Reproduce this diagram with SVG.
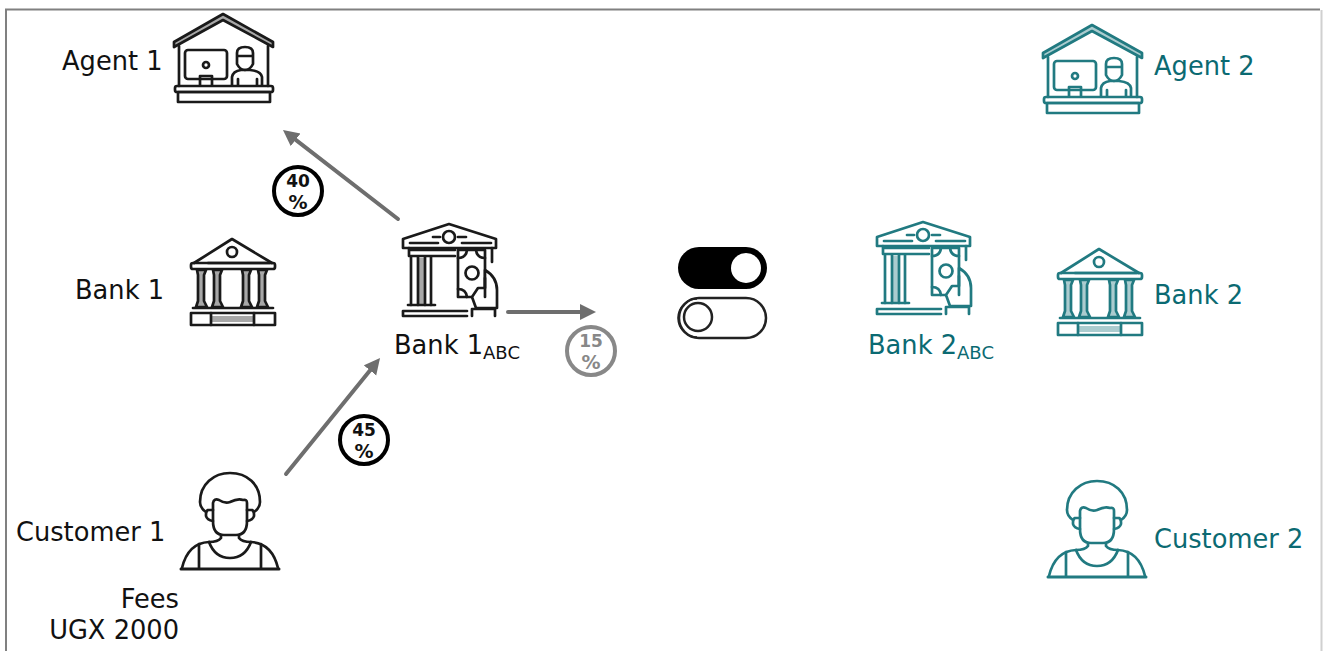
<svg xmlns="http://www.w3.org/2000/svg" width="1324" height="651" viewBox="0 0 1324 651">
<style>
.t{font-family:"DejaVu Sans",Verdana,sans-serif;font-size:25.7px;fill:#111}
.s{font-size:18px}
.teal{fill:#0b6a72}
.p{font-family:"DejaVu Sans",Verdana,sans-serif;font-size:17px;font-weight:bold;text-anchor:middle;fill:#111}
.q{font-size:19px}
.ic{fill:none;stroke:currentColor;stroke-width:2.7;stroke-linecap:round;stroke-linejoin:round}
.g{fill:currentColor;fill-opacity:.38}
.w{fill:#fff}
.c{fill:#fff;stroke:#000;stroke-width:4}
.a{stroke:#6e6e6e;stroke-width:4;stroke-linecap:round;fill:none;marker-end:url(#h)}
.black{color:#1a1a1a}
.tl{color:#217a81}
</style>
<defs>
<marker id="h" markerUnits="userSpaceOnUse" markerWidth="18" markerHeight="18" refX="8" refY="8" orient="auto"><path d="M0 0L16 8L0 16Z" fill="#6e6e6e"/></marker>
<g id="agent" class="ic">
<path class="g" d="M174 42L223 14L273 42L273 47L223 20L174 47Z"/>
<path d="M179 46V86M268 46V86"/>
<rect x="185" y="50" width="42" height="29" rx="3"/>
<circle cx="206" cy="65" r="3"/>
<path d="M200 85V76H212V85"/>
<path d="M237 64V53Q237 47 245 47Q253 47 253 53V64Q250 70 245 70Q240 70 237 64ZM237 56H253"/>
<path d="M232 85V77Q233 71 241 70H250Q261 71 262 77V85M238 85V79M257 85V79"/>
<rect x="175" y="86" width="98" height="6" rx="2"/>
<rect x="178" y="92" width="92" height="10"/>
</g>
<g id="bank" class="ic">
<path d="M194 263L232 239L272 263"/>
<circle cx="232" cy="252" r="5"/>
<path d="M208 263H270"/>
<rect x="191" y="263" width="84" height="6" rx="2"/>
<path class="g" d="M197 270H206L204 275V301L207 307H196L198 301V275ZM213 270H222L220 275V301L223 307H212L214 301V275ZM242 270H251L249 275V301L252 307H241L243 301V275ZM258 270H267L265 275V301L268 307H257L259 301V275Z"/>
<rect x="191" y="313" width="84" height="12"/>
<path d="M211 313V325M254 313V325M193 308H273"/>
<rect class="g" x="211" y="316" width="43" height="6" stroke="none"/>
</g>
<g id="bankm" class="ic">
<path d="M403 239L449 224L496 239V248H403Z"/>
<circle cx="449" cy="237" r="6"/>
<path d="M433 237H440M458 237H466M410 243H438M462 243H491M409 250H455M409 256H455M409 248V256M492 248V262"/>
<path d="M411 257V305M418 257V305M425 257V305M431 257V305"/>
<rect class="g" x="418" y="258" width="7" height="46" stroke="none"/>
<path d="M408 305H435M403 316V311H467M403 316H467"/>
<rect x="458" y="250" width="27" height="47"/>
<circle cx="472" cy="273" r="6.500"/>
<path d="M458 258Q466 258 467 250M485 258Q477 258 476 250M458 289Q466 289 467 297"/>
<path class="w" d="M485 270Q497 277 497 290V308H476L472 297L478 288H485Z"/>
<path d="M485 278V297M472 316V309H495V316"/>
</g>
<g id="person" class="ic">
<path d="M206 512Q200 508 200 502C200 484 214 473 230 473C247 473 260 484 260 502Q260 508 254 512"/>
<path d="M213 503Q214 498 219 500Q225 504 230 502Q238 498 243 500Q247 499 247 503V521Q247 535 236 535H224Q213 535 213 521Z"/>
<path d="M213 510H208Q206 511 206 514V516Q207 520 213 521M247 510H252Q254 511 254 514V516Q253 520 247 521"/>
<path d="M221 535V538Q218 542 209 542Q188 543 182 568M239 535V538Q242 542 251 542Q272 543 278 568"/>
<path d="M209 542Q215 558 230 558Q245 558 251 542M199 544V568M261 544V568"/>
<path d="M181 569H279" stroke-width="3"/>
</g>
</defs>
<rect width="1324" height="651" fill="#fff"/>
<path d="M6 651V9.500H1320" fill="none" stroke="#808080" stroke-width="2"/>
<path d="M1321.500 10V651" fill="none" stroke="#d0d0d0" stroke-width="2"/>
<g id="connectors">
<path class="a" d="M398 219L289.300 134.900"/>
<path class="a" d="M508 312H588"/>
<path class="a" d="M286 474L375 364.200"/>
</g>
<g id="agent1" class="black"><use href="#agent"/><text class="t" x="62" y="70">Agent 1</text></g>
<g id="bank1" class="black"><use href="#bank"/><text class="t" x="75" y="299">Bank 1</text></g>
<g id="bank1abc" class="black"><use href="#bankm"/><text class="t" x="394" y="354">Bank 1<tspan class="s" dy="5">ABC</tspan></text></g>
<g id="customer1" class="black"><use href="#person"/><text class="t" x="16" y="541">Customer 1</text></g>
<g id="fees"><text class="t" x="179" y="608" text-anchor="end">Fees</text><text class="t" x="179" y="639" text-anchor="end">UGX 2000</text></g>
<g id="pct40"><circle class="c" cx="298" cy="191" r="24"/><text class="p" x="298" y="187">40</text><text class="p q" x="298" y="209">%</text></g>
<g id="pct45"><circle class="c" cx="364" cy="440" r="24"/><text class="p" x="364" y="436">45</text><text class="p q" x="364" y="458">%</text></g>
<g id="pct15"><circle class="c" style="stroke:#888" cx="591" cy="351" r="24"/><text class="p" style="fill:#888" x="591" y="347">15</text><text class="p q" style="fill:#888" x="591" y="369">%</text></g>
<g id="toggle">
<rect x="678" y="247" width="89" height="42" rx="21" fill="#000"/>
<circle cx="746" cy="268" r="15" fill="#fff"/>
<rect x="679" y="298" width="87" height="40" rx="20" fill="#fff" stroke="#222" stroke-width="2.500"/>
<circle cx="698" cy="317" r="14" fill="#fff" stroke="#222" stroke-width="2.500"/>
<path d="M697 299A19 19 0 0 0 697 337" fill="none" stroke="#222" stroke-width="1.500"/>
</g>
<g id="agent2" class="tl"><use href="#agent" x="869" y="11"/><text class="t teal" x="1154" y="75">Agent 2</text></g>
<g id="bank2" class="tl"><use href="#bank" x="867" y="10"/><text class="t teal" x="1154" y="304">Bank 2</text></g>
<g id="bank2abc" class="tl"><use href="#bankm" x="474" y="-2"/><text class="t teal" x="868" y="354">Bank 2<tspan class="s" dy="5">ABC</tspan></text></g>
<g id="customer2" class="tl"><use href="#person" x="867" y="8"/><text class="t teal" x="1154" y="548">Customer 2</text></g>
</svg>
